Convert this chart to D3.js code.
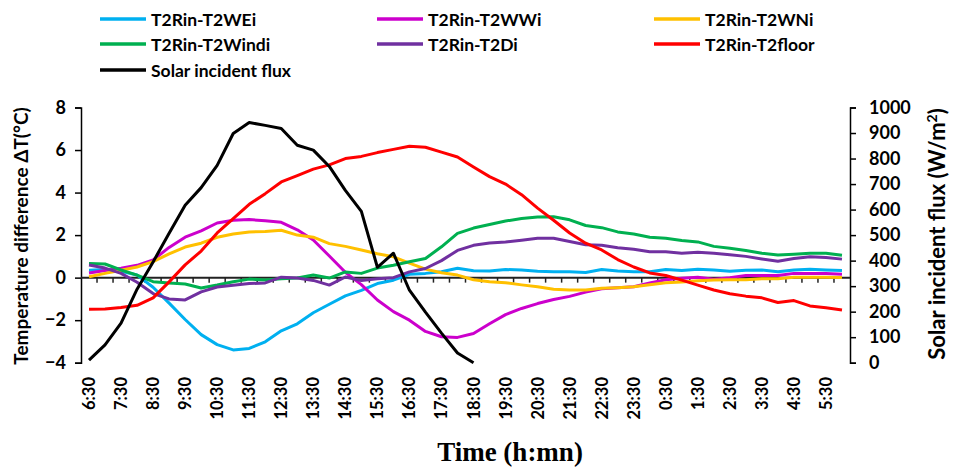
<!DOCTYPE html>
<html><head><meta charset="utf-8">
<script src="https://cdn.jsdelivr.net/npm/d3@7"></script>
<style>
html,body{margin:0;padding:0;background:#fff;}
svg text{font-family:Lato,"Open Sans",sans-serif;font-weight:bold;fill:#000;}
</style></head>
<body><svg id="c" width="955" height="467"></svg>
<script>
const categories = ["6:30","7:00","7:30","8:00","8:30","9:00","9:30","10:00","10:30","11:00","11:30","12:00","12:30","13:00","13:30","14:00","14:30","15:00","15:30","16:00","16:30","17:00","17:30","18:00","18:30","19:00","19:30","20:00","20:30","21:00","21:30","22:00","22:30","23:00","23:30","0:00","0:30","1:00","1:30","2:00","2:30","3:00","3:30","4:00","4:30","5:00","5:30","6:00"];
const tickLabels = ["6:30","7:30","8:30","9:30","10:30","11:30","12:30","13:30","14:30","15:30","16:30","17:30","18:30","19:30","20:30","21:30","22:30","23:30","0:30","1:30","2:30","3:30","4:30","5:30"];
const seriesNames = ["T2Rin-T2WEi","T2Rin-T2WWi","T2Rin-T2WNi","T2Rin-T2Windi","T2Rin-T2Di","T2Rin-T2floor","Solar incident flux"];
const seriesColors = ["#00B0F0","#CC00CC","#FFC000","#00B050","#7030A0","#FF0000","#000000"];
const WEi = [0.35,0.38,0.3,0.12,-0.45,-1.2,-1.97,-2.68,-3.15,-3.4,-3.33,-3.02,-2.5,-2.17,-1.65,-1.25,-0.86,-0.6,-0.28,-0.12,0.16,0.2,0.28,0.44,0.32,0.31,0.38,0.36,0.3,0.28,0.28,0.24,0.38,0.31,0.28,0.28,0.38,0.34,0.39,0.36,0.3,0.35,0.36,0.28,0.36,0.39,0.36,0.33];
const WWi = [0.22,0.34,0.44,0.58,0.83,1.42,1.9,2.2,2.57,2.7,2.73,2.68,2.6,2.25,1.77,1.02,0.25,-0.33,-1.05,-1.6,-2.0,-2.53,-2.78,-2.81,-2.63,-2.17,-1.74,-1.45,-1.22,-1.03,-0.88,-0.68,-0.52,-0.47,-0.43,-0.25,-0.1,-0.03,0.02,-0.08,0.0,0.1,0.1,0.1,0.2,0.2,0.2,0.16];
const WNi = [0.04,0.2,0.35,0.5,0.75,1.12,1.44,1.62,1.9,2.05,2.15,2.17,2.23,2.0,1.9,1.6,1.47,1.3,1.12,0.98,0.68,0.4,0.23,0.12,-0.1,-0.19,-0.24,-0.34,-0.43,-0.55,-0.58,-0.58,-0.5,-0.47,-0.43,-0.33,-0.24,-0.2,-0.15,-0.11,-0.1,-0.1,-0.05,-0.05,0.02,0.02,0.02,0.01];
const Windi = [0.67,0.64,0.36,0.12,-0.19,-0.25,-0.3,-0.49,-0.35,-0.19,-0.07,-0.11,-0.05,-0.02,0.12,-0.02,0.27,0.2,0.45,0.58,0.75,0.9,1.45,2.08,2.33,2.5,2.66,2.78,2.85,2.86,2.72,2.45,2.35,2.15,2.05,1.9,1.85,1.75,1.68,1.47,1.38,1.28,1.15,1.06,1.1,1.15,1.15,1.05];
const Di = [0.59,0.45,0.2,-0.22,-0.75,-1.0,-1.05,-0.67,-0.44,-0.36,-0.28,-0.25,0.02,-0.02,-0.13,-0.35,0.03,-0.14,-0.05,0.0,0.27,0.43,0.8,1.28,1.52,1.63,1.68,1.76,1.85,1.85,1.7,1.55,1.52,1.41,1.33,1.22,1.22,1.15,1.19,1.15,1.08,1.0,0.88,0.77,0.9,0.98,0.95,0.87];
const floor = [-1.49,-1.48,-1.4,-1.3,-0.95,-0.2,0.6,1.25,2.1,2.78,3.45,3.95,4.5,4.8,5.1,5.3,5.6,5.7,5.88,6.03,6.18,6.13,5.9,5.67,5.2,4.75,4.4,3.9,3.27,2.7,2.1,1.62,1.3,0.85,0.5,0.22,0.1,-0.12,-0.35,-0.58,-0.76,-0.87,-0.95,-1.17,-1.08,-1.33,-1.42,-1.52];
const solar = [10,70,155,288,395,507,617,686,773,898,941,930,918,852,833,769,675,593,374,429,284,198,116,38,0,null,null,null,null,null,null,null,null,null,null,null,null,null,null,null,null,null,null,null,null,null,null,null];
const leftTicks = [-4,-2,0,2,4,6,8];
const rightTicks = [0,100,200,300,400,500,600,700,800,900,1000];

const svg = d3.select("#c");
const L = 81, R = 850, T = 107.5, B = 362.7;
const x = d3.scaleBand().domain(categories).range([L, R]).padding(0);
const cx = c => x(c) + x.bandwidth()/2;
const yL = d3.scaleLinear().domain([-4, 8]).range([B, T]);
const yR = d3.scaleLinear().domain([0, 1000]).range([B, T]);

// Left axis
const gl = svg.append("g").attr("transform", `translate(${L},0)`)
  .call(d3.axisLeft(yL).tickValues(leftTicks).tickSize(6).tickPadding(9).tickFormat(d3.format("d")));
gl.selectAll("path,line").attr("stroke", "#000").attr("stroke-width", 1.5);
gl.selectAll("text").style("font-size", "18px");

// Right axis
const gr = svg.append("g").attr("transform", `translate(${R},0)`)
  .call(d3.axisRight(yR).tickValues(rightTicks).tickSize(6).tickPadding(13).tickFormat(d3.format("d")));
gr.selectAll("path,line").attr("stroke", "#000").attr("stroke-width", 1.5);
gr.selectAll("text").style("font-size", "18px");

// Category axis along zero line
const y0 = yL(0);
svg.append("line").attr("x1", L).attr("x2", R).attr("y1", y0).attr("y2", y0)
  .attr("stroke", "#222").attr("stroke-width", 2);
svg.append("g").selectAll("line").data(categories.slice(1)).join("line")
  .attr("x1", d => x(d)).attr("x2", d => x(d))
  .attr("y1", y0).attr("y2", y0 + 5)
  .attr("stroke", "#222").attr("stroke-width", 1.5);

// Category labels (below plot, rotated)
svg.append("g").selectAll("text").data(tickLabels).join("text")
  .attr("transform", d => `translate(${cx(d)+6},377) rotate(-90)`)
  .attr("text-anchor", "end")
  .style("font-size", "16.5px")
  .text(d => d);

// Lines
const tempSeries = [WEi, WWi, WNi, Windi, Di, floor];
const lineL = d3.line().defined(d => d.v != null).x(d => cx(d.c)).y(d => yL(d.v));
const lineR = d3.line().defined(d => d.v != null).x(d => cx(d.c)).y(d => yR(d.v));
tempSeries.forEach((s, k) => {
  svg.append("path").datum(categories.map((c, i) => ({c, v: s[i]})))
    .attr("d", lineL).attr("fill", "none").attr("stroke", seriesColors[k])
    .attr("stroke-width", 3).attr("stroke-linejoin", "round");
});
svg.append("path").datum(categories.map((c, i) => ({c, v: solar[i]})))
  .attr("d", lineR).attr("fill", "none").attr("stroke", seriesColors[6])
  .attr("stroke-width", 3).attr("stroke-linejoin", "round");

// Axis titles
svg.append("text").attr("transform", "translate(28,236) rotate(-90)")
  .attr("text-anchor", "middle").style("font-size", "19px")
  .text("Temperature difference ΔT(°C)");
const rt = svg.append("text").attr("transform", "translate(945,234) rotate(-90)")
  .attr("text-anchor", "middle").style("font-size", "22px");
rt.append("tspan").text("Solar incident flux (W/m");
rt.append("tspan").attr("dy", -8).style("font-size", "14px").text("2");
rt.append("tspan").attr("dy", 8).text(")");
svg.append("text").attr("x", 510).attr("y", 461).attr("text-anchor", "middle")
  .style("font-family", "'Liberation Serif','Times New Roman',serif").style("font-size", "27px")
  .text("Time (h:mn)");

// Legend
const colX = [100, 377, 654], rowY = [19, 44, 70];
const lg = svg.append("g").selectAll("g").data(seriesNames).join("g")
  .attr("transform", (d, i) => `translate(${colX[i % 3]},${rowY[Math.floor(i / 3)]})`);
lg.append("line").attr("x1", 0).attr("x2", 46).attr("y1", 0).attr("y2", 0)
  .attr("stroke", (d, i) => seriesColors[i]).attr("stroke-width", 3.5);
lg.append("text").attr("x", 51).attr("y", 6.5).style("font-size", "17.5px").text(d => d);
</script></body></html>
